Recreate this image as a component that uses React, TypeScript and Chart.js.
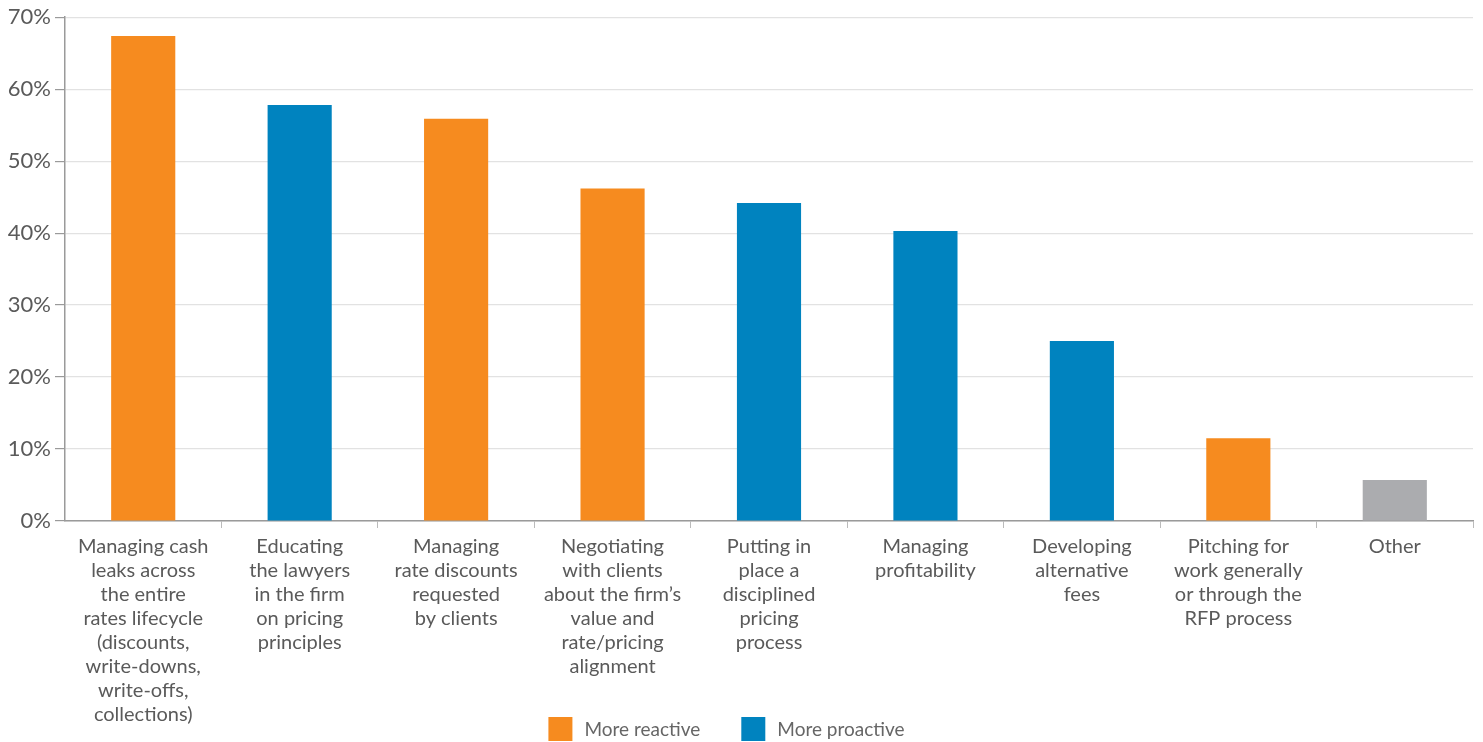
import React, { useEffect, useRef } from "react";
import { Chart, registerables } from "chart.js";

Chart.register(...registerables);

const categories: string[][] = [
  ["Managing cash", "leaks across", "the entire", "rates lifecycle", "(discounts,", "write-downs,", "write-offs,", "collections)"],
  ["Educating", "the lawyers", "in the firm", "on pricing", "principles"],
  ["Managing", "rate discounts", "requested", "by clients"],
  ["Negotiating", "with clients", "about the firm’s", "value and", "rate/pricing", "alignment"],
  ["Putting in", "place a", "disciplined", "pricing", "process"],
  ["Managing", "profitability"],
  ["Developing", "alternative", "fees"],
  ["Pitching for", "work generally", "or through the", "RFP process"],
  ["Other"],
];

const values: number[] = [67.4, 57.8, 55.9, 46.2, 44.2, 40.3, 25.0, 11.5, 5.7];
const groups: string[] = ["reactive", "proactive", "reactive", "reactive", "proactive", "proactive", "proactive", "reactive", "other"];
const legendLabels: string[] = ["More reactive", "More proactive"];
const yTicks: number[] = [0, 10, 20, 30, 40, 50, 60, 70];

const ORANGE = "#F68B1F";
const BLUE = "#0083BF";
const GRAY = "#ABACAF";
const colorOf = (g: string) => (g === "reactive" ? ORANGE : g === "proactive" ? BLUE : GRAY);
const legendColors: string[] = [ORANGE, BLUE];

const FONT = "Lato, 'Open Sans', sans-serif";

const legendPlugin = {
  id: "customLegend",
  afterDraw(chart: any) {
    const ctx = chart.ctx;
    ctx.save();
    ctx.font = `19px ${FONT}`;
    const box = 24;
    const gapText = 12;
    const gapItem = 41;
    const widths = legendLabels.map((t) => box + gapText + ctx.measureText(t).width);
    const total = widths.reduce((a, b) => a + b, 0) + gapItem * (legendLabels.length - 1);
    let x = chart.width / 2 - 15 - total / 2;
    const top = 717;
    legendLabels.forEach((t, i) => {
      ctx.fillStyle = legendColors[i];
      ctx.fillRect(x, top, box, box);
      ctx.fillStyle = "#666";
      ctx.textBaseline = "middle";
      ctx.textAlign = "left";
      ctx.fillText(t, x + box + gapText, top + box / 2 + 1);
      x += widths[i] + gapItem;
    });
    ctx.restore();
  },
};

export default function App() {
  const ref = useRef<HTMLCanvasElement | null>(null);

  useEffect(() => {
    if (!ref.current) return;
    const chart = new Chart(ref.current, {
      type: "bar",
      data: {
        labels: categories,
        datasets: [
          {
            data: values,
            backgroundColor: groups.map(colorOf),
            barPercentage: 0.41,
            categoryPercentage: 1,
          },
        ],
      },
      plugins: [legendPlugin],
      options: {
        responsive: false,
        animation: false,
        layout: { padding: { top: 16, right: 10, left: 0, bottom: 0 } },
        plugins: {
          tooltip: { enabled: false },
          legend: { display: false },
        },
        scales: {
          x: {
            offset: true,
            grid: {
              offset: true,
              drawOnChartArea: false,
              drawTicks: true,
              tickLength: 7,
              tickColor: (ctx: any) =>
                ctx.index === 0 || ctx.index >= categories.length ? "rgba(0,0,0,0)" : "#bbbbbb",
            },
            border: { color: "#9a9a9a", width: 1.5 },
            ticks: {
              autoSkip: false,
              maxRotation: 0,
              minRotation: 0,
              padding: 7,
              color: "#5a5a5a",
              font: { family: FONT, size: 20, lineHeight: 1.2 },
            },
            afterFit: (scale: any) => {
              scale.height = 221;
            },
          },
          y: {
            min: 0,
            max: 70,
            afterBuildTicks: (scale: any) => {
              scale.ticks = yTicks.map((v) => ({ value: v }));
            },
            grid: {
              color: "#e2e2e2",
              lineWidth: 1.2,
              tickLength: 10,
              tickColor: "#9a9a9a",
            },
            border: { color: "#9a9a9a", width: 1.5 },
            ticks: {
              padding: 4,
              color: "#5a5a5a",
              font: { family: FONT, size: 22 },
              callback: (v: any) => `${v}%`,
            },
            afterFit: (scale: any) => {
              scale.width = 65;
            },
          },
        },
      },
    } as any);
    return () => chart.destroy();
  }, []);

  return (
    <div
      style={{
        position: "absolute",
        left: 0,
        top: 0,
        width: 1483,
        height: 742,
        overflow: "hidden",
        background: "#fff",
      }}
    >
      <canvas ref={ref} width={1483} height={742} style={{ display: "block" }} />
    </div>
  );
}
